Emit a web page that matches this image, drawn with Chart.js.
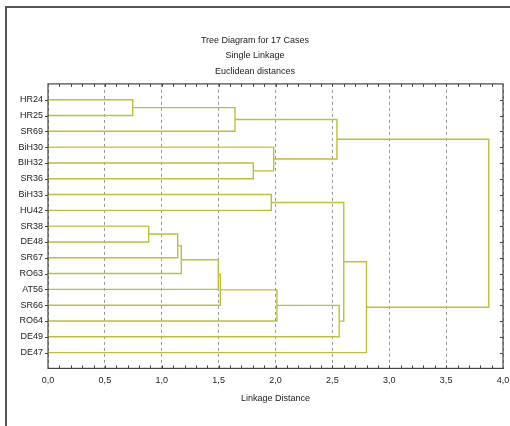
<!DOCTYPE html>
<html>
<head>
<meta charset="utf-8">
<script src="https://cdn.jsdelivr.net/npm/chart.js@4"></script>
<style>
  html, body { margin: 0; padding: 0; background: #fff; }
  #wrap { width: 510px; height: 426px; }
</style>
</head>
<body>
<div id="wrap"><canvas id="treeChart" width="510" height="426"></canvas></div>
<script>
// leaves in plot order (top to bottom)
var leaves = ['HR24', 'HR25', 'SR69', 'BiH30', 'BIH32', 'SR36', 'BiH33', 'HU42', 'SR38',
              'DE48', 'SR67', 'RO63', 'AT56', 'SR66', 'RO64', 'DE49', 'DE47'];

// merge steps: node ids 0..16 are leaves, 17.. are the clusters made below
var mergeLeft   = [0, 17, 4, 3, 18, 6, 8, 23, 24, 25, 26, 27, 28, 22, 30, 21];
var mergeRight  = [1, 2, 5, 19, 20, 7, 9, 10, 11, 12, 13, 14, 15, 29, 16, 31];
var mergeHeight = [0.745, 1.644, 1.805, 1.984, 2.54, 1.963, 0.885, 1.14, 1.172,
                   1.497, 1.515, 2.013, 2.56, 2.60, 2.80, 3.875];

var xTicks = [0, 0.5, 1, 1.5, 2, 2.5, 3, 3.5, 4];
var titleLines = ['Tree Diagram for 17 Cases', 'Single Linkage', 'Euclidean distances'];

var lineColor = '#bcc036';
var fontFamily = "'Liberation Sans', Arial, sans-serif";

//-----------------BUILD LINKS-----------------------------
var nodeY = leaves.map(function(_, i) { return i; });
var nodeH = leaves.map(function() { return 0; });
var datasets = [];
for (var i = 0; i < mergeHeight.length; i++) {
  var a = mergeLeft[i], b = mergeRight[i], h = mergeHeight[i];
  datasets.push({
    data: [
      { x: nodeH[a], y: nodeY[a] },
      { x: h, y: nodeY[a] },
      { x: h, y: nodeY[b] },
      { x: nodeH[b], y: nodeY[b] }
    ],
    showLine: true,
    borderColor: lineColor,
    borderWidth: 1.4,
    pointRadius: 0,
    tension: 0
  });
  nodeY.push((nodeY[a] + nodeY[b]) / 2);
  nodeH.push(h);
}

//-----------------AXIS DECORATION-----------------------------
var axisBox = {
  id: 'axisBox',
  afterDraw: function(chart) {
    var ctx = chart.ctx;
    var area = chart.chartArea;
    var xs = chart.scales.x, ys = chart.scales.y;
    ctx.save();
    // outer frame (only left and top are inside the picture)
    ctx.strokeStyle = '#555';
    ctx.lineWidth = 2;
    ctx.beginPath();
    ctx.moveTo(6, 426);
    ctx.lineTo(6, 7);
    ctx.lineTo(510, 7);
    ctx.stroke();

    ctx.strokeStyle = '#444';
    ctx.lineWidth = 1.2;
    ctx.strokeRect(area.left, area.top, area.right - area.left, area.bottom - area.top);

    ctx.lineWidth = 1;
    ctx.beginPath();
    // minor ticks top and bottom, every 0.1
    for (var k = 1; k < 40; k++) {
      var px = Math.round(xs.getPixelForValue(k / 10)) + 0.5;
      ctx.moveTo(px, area.top);
      ctx.lineTo(px, area.top + 3);
      ctx.moveTo(px, area.bottom);
      ctx.lineTo(px, area.bottom - 3);
    }
    // row ticks left (outside) and right (inside)
    for (var r = 0; r < leaves.length; r++) {
      var py = Math.round(ys.getPixelForValue(r)) + 0.5;
      ctx.moveTo(area.left - 3, py);
      ctx.lineTo(area.left, py);
      ctx.moveTo(area.right - 3, py);
      ctx.lineTo(area.right, py);
    }
    ctx.stroke();
    ctx.restore();
  }
};

//-----------------CREATE CHART-----------------------------
Chart.defaults.font.family = fontFamily;
Chart.defaults.font.size = 9;
Chart.defaults.color = '#222';

const treeChart = new Chart(document.getElementById('treeChart'), {
  type: 'scatter',
  data: { datasets: datasets },
  options: {
    responsive: false,
    animation: false,
    layout: { padding: { left: 0, right: 0, top: 0, bottom: 22 } },
    plugins: {
      legend: { display: false },
      tooltip: { enabled: false },
      title: {
        display: true,
        text: titleLines,
        color: '#222',
        font: { size: 9, weight: 'normal', lineHeight: 1.7 },
        padding: { top: 33, bottom: 5 }
      }
    },
    scales: {
      x: {
        type: 'linear',
        min: 0,
        max: 4,
        afterBuildTicks: function(scale) {
          scale.ticks = xTicks.map(function(v) { return { value: v }; });
        },
        afterFit: function(scale) {
          // let the last label reach the canvas edge
          scale.paddingLeft = 0;
          scale.paddingRight = 7;
        },
        ticks: {
          padding: 7,
          callback: function(v) { return v.toFixed(1).replace('.', ','); }
        },
        grid: {
          drawTicks: false,
          color: '#999',
          lineWidth: 1
        },
        border: { display: true, color: '#444', dash: [3, 3] },
        title: {
          display: true,
          text: 'Linkage Distance',
          padding: { top: 0, bottom: 0 }
        }
      },
      y: {
        type: 'linear',
        reverse: true,
        min: -1,
        max: 17,
        afterFit: function(scale) { scale.width = 48; },
        afterBuildTicks: function(scale) {
          scale.ticks = leaves.map(function(_, i) { return { value: i }; });
        },
        ticks: {
          padding: 5,
          callback: function(v) { return leaves[v]; }
        },
        grid: { display: false, drawTicks: false },
        border: { display: false }
      }
    }
  },
  plugins: [axisBox]
});
</script>
</body>
</html>
